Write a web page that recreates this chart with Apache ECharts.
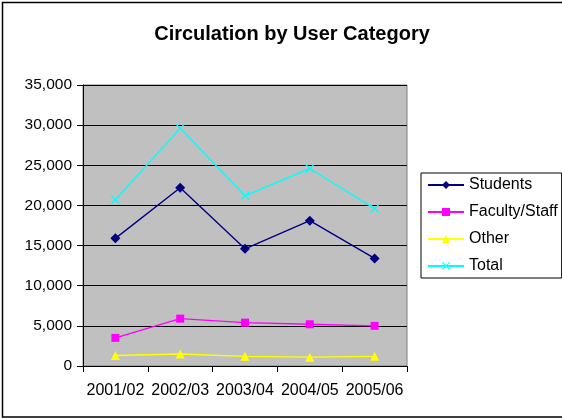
<!DOCTYPE html>
<html>
<head>
<meta charset="utf-8">
<script src="https://cdn.jsdelivr.net/npm/echarts@6/dist/echarts.min.js"></script>
<style>
html,body{margin:0;padding:0;background:#fff;}
#chart{width:562px;height:418px;}
</style>
</head>
<body>
<div id="chart"></div>
<script>
const categories = ['2001/02', '2002/03', '2003/04', '2004/05', '2005/06'];
const students = [15900, 22200, 14600, 18100, 13400];
const facultyStaff = [3500, 5900, 5400, 5200, 5000];
const other = [1300, 1500, 1200, 1100, 1200];
const total = [20700, 29600, 21200, 24600, 19600];
const yTicks = [0, 5000, 10000, 15000, 20000, 25000, 30000, 35000];

const FONT = '"Liberation Sans", Arial, sans-serif';
const xSymbol = 'path://M0,1L1,0L5,4L9,0L10,1L6,5L10,9L9,10L5,6L1,10L0,9L4,5Z';

function fmt(v) { return v.toLocaleString('en-US'); }

const chart = echarts.init(document.getElementById('chart'), null, {renderer: 'canvas'});

function mkSeries(name, data, color, symbol, size) {
  return {
    name: name, type: 'line', data: data,
    symbol: symbol, symbolSize: size,
    lineStyle: {color: color, width: 1.4},
    itemStyle: {color: color, borderWidth: 0},
    emphasis: {disabled: true},
    animation: false
  };
}

chart.setOption({
  backgroundColor: '#ffffff',
  animation: false,
  title: {
    text: 'Circulation by User Category',
    left: 287, top: 19, textAlign: 'center',
    textStyle: {fontFamily: FONT, fontSize: 20, fontWeight: 'bold', color: '#000'}
  },
  graphic: [{
    type: 'rect', silent: true,
    shape: {x: 2.5, y: 2.5, width: 600, height: 414.5},
    style: {fill: 'none', stroke: '#000', lineWidth: 1.5}
  }],
  legend: {
    orient: 'vertical', left: 421, top: 173,
    padding: [3, 4, 3, 6],
    itemWidth: 36, itemHeight: 10, itemGap: 9,
    borderColor: '#000', borderWidth: 1,
    textStyle: {fontFamily: FONT, fontSize: 16, color: '#000', lineHeight: 18},
    data: ['Students', 'Faculty/Staff', 'Other', 'Total']
  },
  grid: {
    left: 83, top: 85, width: 324, height: 281,
    show: true, backgroundColor: '#C0C0C0', borderColor: '#808080', borderWidth: 1
  },
  xAxis: {
    type: 'category', data: categories, boundaryGap: true,
    axisLine: {lineStyle: {color: '#000', width: 1}},
    axisTick: {show: true, length: 6, inside: false, lineStyle: {color: '#000'}},
    axisLabel: {fontFamily: FONT, fontSize: 16, color: '#000', margin: 17, interval: 0},
    splitLine: {show: false}
  },
  yAxis: {
    type: 'value', min: yTicks[0], max: yTicks[yTicks.length - 1], interval: 5000,
    axisLine: {show: true, lineStyle: {color: '#000', width: 1}},
    axisTick: {show: true, length: 6, lineStyle: {color: '#000'}},
    axisLabel: {fontFamily: FONT, fontSize: 15.5, color: '#000', margin: 11, formatter: fmt},
    splitLine: {show: true, lineStyle: {color: '#000', width: 1}}
  },
  series: [
    mkSeries('Students', students, '#000080', 'diamond', 10),
    mkSeries('Faculty/Staff', facultyStaff, '#FF00FF', 'rect', 8),
    mkSeries('Other', other, '#FFFF00', 'triangle', 9),
    mkSeries('Total', total, '#00FFFF', xSymbol, 9)
  ]
});
</script>
</body>
</html>
